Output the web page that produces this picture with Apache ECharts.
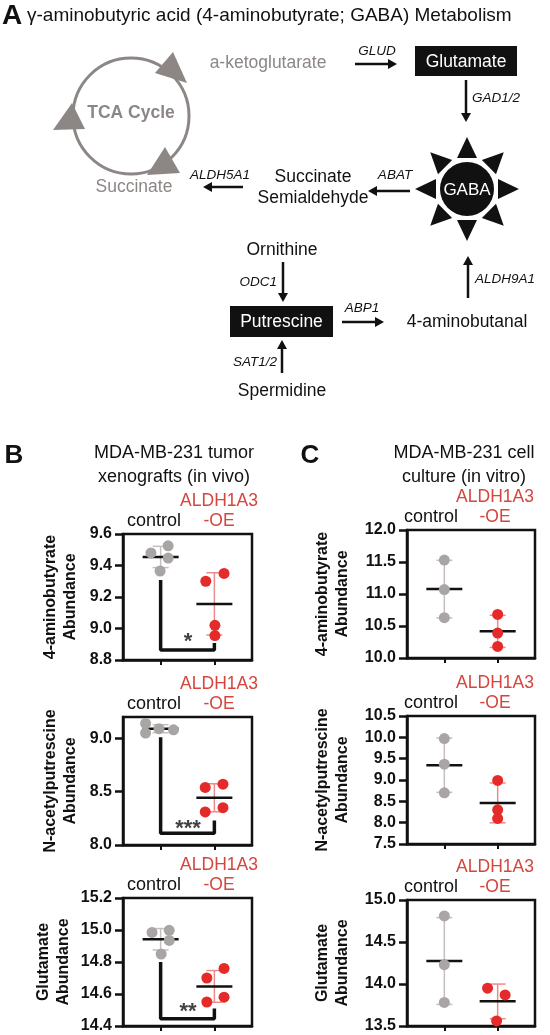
<!DOCTYPE html>
<html>
<head>
<meta charset="utf-8">
<script src="https://cdn.jsdelivr.net/npm/echarts@6/dist/echarts.min.js"></script>
<style>
  html, body { margin: 0; padding: 0; background: #fff; }
  #chart { width: 550px; height: 1035px; }
</style>
</head>
<body>
<div id="chart"></div>
<script>
  // ---- data ----
  var groups = ['control', 'ALDH1A3-OE'];

  // B: tumor xenografts (in vivo), n = 4
  var vivoGabaCtrl = [9.48, 9.525, 9.447, 9.365];
  var vivoGabaCtrlX = [0.82, 1.14, 1.14, 0.99];
  var vivoGabaOE = [9.30, 9.35, 9.02, 8.955];
  var vivoGabaOEX = [1.84, 2.18, 2.01, 2.01];

  var vivoAcpCtrl = [9.14, 9.05, 9.09, 9.08];
  var vivoAcpCtrlX = [0.72, 0.72, 0.97, 1.24];
  var vivoAcpOE = [8.54, 8.57, 8.31, 8.35];
  var vivoAcpOEX = [1.83, 2.16, 1.83, 2.16];

  var vivoGluCtrl = [14.985, 14.998, 14.935, 14.85];
  var vivoGluCtrlX = [0.84, 1.16, 1.16, 1.01];
  var vivoGluOE = [14.70, 14.76, 14.55, 14.58];
  var vivoGluOEX = [1.86, 2.18, 1.86, 2.18];

  // C: cell culture (in vitro), n = 3
  var vitroGabaCtrl = [11.53, 11.07, 10.63];
  var vitroGabaCtrlX = [1, 1, 1];
  var vitroGabaOE = [10.68, 10.39, 10.18];
  var vitroGabaOEX = [2, 2, 2];

  var vitroAcpCtrl = [9.97, 9.37, 8.70];
  var vitroAcpCtrlX = [1, 1, 1];
  var vitroAcpOE = [8.99, 8.30, 8.10];
  var vitroAcpOEX = [2, 2, 2];

  var vitroGluCtrl = [14.81, 14.23, 13.78];
  var vitroGluCtrlX = [1, 1, 1];
  var vitroGluOE = [13.95, 13.87, 13.56];
  var vitroGluOEX = [1.81, 2.14, 1.98];

  // significance brackets: [top at control, bottom, end at OE]
  var vivoGabaBracket = [9.308, 8.863, 8.908];
  var vivoAcpBracket = [9.01, 8.11, 8.23];
  var vivoGluBracket = [14.80, 14.445, 14.51];
  var starLabels = ['*', '***', '**'];
  var starY = [8.946, 8.197, 14.517];

  // y axes
  var yMin = [8.8, 8.0, 14.4, 10.0, 7.5, 13.5];
  var yMax = [9.6, 9.2, 15.2, 12.0, 10.5, 15.0];
  var yTicks = [
    [8.8, 9.0, 9.2, 9.4, 9.6],
    [8.0, 8.5, 9.0],
    [14.4, 14.6, 14.8, 15.0, 15.2],
    [10.0, 10.5, 11.0, 11.5, 12.0],
    [7.5, 8.0, 8.5, 9.0, 9.5, 10.0, 10.5],
    [13.5, 14.0, 14.5, 15.0]
  ];
  var yNames = [
    '4-aminobutyrate\nAbundance', 'N-acetylputrescine\nAbundance', 'Glutamate\nAbundance',
    '4-aminobutyrate\nAbundance', 'N-acetylputrescine\nAbundance', 'Glutamate\nAbundance'
  ];

  // ---- style ----
  var FONT = '"Liberation Sans", Arial, Helvetica, sans-serif';
  var INK = '#111';
  var GRAY = '#a9a5a5', GRAY_SD = '#c4c0c0';
  var RED = '#e52a2a', RED_SD = '#ec8b8b', RED_TXT = '#d6453e';
  var DIAG_GRAY = '#8c8785';

  var grids = [
    { left: 123, top: 534, width: 129, height: 126 },
    { left: 123, top: 717, width: 129, height: 128 },
    { left: 123, top: 898, width: 129, height: 128 },
    { left: 407, top: 530, width: 128, height: 128 },
    { left: 407, top: 716, width: 128, height: 128 },
    { left: 407, top: 900, width: 128, height: 126 }
  ];

  var panels = [
    [vivoGabaCtrl, vivoGabaCtrlX, vivoGabaOE, vivoGabaOEX, vivoGabaBracket],
    [vivoAcpCtrl, vivoAcpCtrlX, vivoAcpOE, vivoAcpOEX, vivoAcpBracket],
    [vivoGluCtrl, vivoGluCtrlX, vivoGluOE, vivoGluOEX, vivoGluBracket],
    [vitroGabaCtrl, vitroGabaCtrlX, vitroGabaOE, vitroGabaOEX, null],
    [vitroAcpCtrl, vitroAcpCtrlX, vitroAcpOE, vitroAcpOEX, null],
    [vitroGluCtrl, vitroGluCtrlX, vitroGluOE, vitroGluOEX, null]
  ];

  function meanSd(a) {
    var m = a.reduce(function (s, v) { return s + v; }, 0) / a.length;
    var ss = a.reduce(function (s, v) { return s + (v - m) * (v - m); }, 0);
    return [m, Math.sqrt(ss / (a.length - 1))];
  }

  function pairs(xs, ys) {
    return ys.map(function (y, i) { return [xs[i], y]; });
  }

  // mean line + SD whiskers
  function renderMeanSd(params, api) {
    var x = api.value(0), m = api.value(1), sd = api.value(2), kind = api.value(3);
    var top = api.coord([x, m + sd]), bot = api.coord([x, m - sd]), mid = api.coord([x, m]);
    var c = kind === 0 ? GRAY_SD : RED_SD;
    var cap = 8, half = 18;
    return {
      type: 'group',
      children: [
        { type: 'line', shape: { x1: top[0], y1: top[1], x2: bot[0], y2: bot[1] }, style: { stroke: c, lineWidth: 1.5 } },
        { type: 'line', shape: { x1: top[0] - cap, y1: top[1], x2: top[0] + cap, y2: top[1] }, style: { stroke: c, lineWidth: 1.5 } },
        { type: 'line', shape: { x1: bot[0] - cap, y1: bot[1], x2: bot[0] + cap, y2: bot[1] }, style: { stroke: c, lineWidth: 1.5 } },
        { type: 'line', shape: { x1: mid[0] - half, y1: mid[1], x2: mid[0] + half, y2: mid[1] }, style: { stroke: INK, lineWidth: 2.5 } }
      ]
    };
  }

  var xAxes = [], yAxes = [], series = [];
  panels.forEach(function (p, i) {
    xAxes.push({
      gridIndex: i, type: 'value', min: 0.3, max: 2.7,
      axisLine: { lineStyle: { color: INK, width: 2.5 } },
      axisTick: { show: true, customValues: [1, 2], length: 5, lineStyle: { color: INK, width: 2 } },
      axisLabel: { show: false },
      splitLine: { show: false }
    });
    yAxes.push({
      gridIndex: i, type: 'value', min: yMin[i], max: yMax[i],
      axisLine: { show: true, lineStyle: { color: INK, width: 2.5 } },
      axisTick: { show: true, customValues: yTicks[i], length: 8, lineStyle: { color: INK, width: 2.5 } },
      axisLabel: {
        customValues: yTicks[i], margin: 11, color: INK, fontFamily: FONT, fontSize: 16, fontWeight: 'bold',
        formatter: function (v) { return (+v).toFixed(1); }
      },
      splitLine: { show: false }
    });
    var c = meanSd(p[0]), o = meanSd(p[2]);
    series.push({
      type: 'custom', xAxisIndex: i, yAxisIndex: i, z: 2, silent: true,
      renderItem: renderMeanSd,
      data: [[1, c[0], c[1], 0], [2, o[0], o[1], 1]]
    });
    series.push({
      type: 'scatter', name: groups[0], xAxisIndex: i, yAxisIndex: i, z: 3,
      symbolSize: 11, itemStyle: { color: GRAY, opacity: 1 },
      data: pairs(p[1], p[0])
    });
    series.push({
      type: 'scatter', name: groups[1], xAxisIndex: i, yAxisIndex: i, z: 3,
      symbolSize: 11, itemStyle: { color: RED, opacity: 1 },
      data: pairs(p[3], p[2])
    });
    if (p[4]) {
      var b = p[4];
      series.push({
        type: 'line', xAxisIndex: i, yAxisIndex: i, z: 1, symbol: 'none', silent: true,
        lineStyle: { color: INK, width: 3.5 },
        data: [[1, b[0]], [1, b[1]], [2, b[1]], [2, b[2]]]
      });
      series.push({
        type: 'scatter', xAxisIndex: i, yAxisIndex: i, z: 4, symbolSize: 0, silent: true,
        label: {
          show: true, position: 'inside', offset: [0, 5], color: INK,
          fontFamily: FONT, fontSize: 22, fontWeight: 'bold',
          formatter: starLabels[i]
        },
        data: [[1.51, starY[i]]]
      });
    }
  });

  // ---- pathway diagram + panel texts ----
  var g = [];
  function txt(x, y, s, o) {
    o = o || {};
    var e = {
      type: 'text', x: x, y: y, z: 10, rotation: o.rot || 0,
      style: {
        text: s, fill: o.fill || INK,
        font: (o.italic ? 'italic ' : '') + (o.bold ? 'bold ' : '') + (o.size || 17.5) + 'px ' + FONT,
        textAlign: o.align || 'center', textVerticalAlign: 'middle',
        lineHeight: o.lh || undefined
      }
    };
    g.push(e);
  }
  function arrow(x1, y1, x2, y2) {
    var dx = x2 - x1, dy = y2 - y1, len = Math.sqrt(dx * dx + dy * dy);
    var ux = dx / len, uy = dy / len, hl = 9, hw = 5;
    var bx = x2 - ux * hl, by = y2 - uy * hl;
    g.push({ type: 'line', z: 10, shape: { x1: x1, y1: y1, x2: bx + ux, y2: by + uy }, style: { stroke: INK, lineWidth: 2.5 } });
    g.push({ type: 'polygon', z: 10, shape: { points: [[x2, y2], [bx - uy * hw, by + ux * hw], [bx + uy * hw, by - ux * hw]] }, style: { fill: INK } });
  }
  function box(x, y, w, h, s) {
    g.push({ type: 'rect', z: 9, shape: { x: x, y: y, width: w, height: h }, style: { fill: INK } });
    txt(x + w / 2, y + h / 2 + 1, s, { fill: '#fff' });
  }

  txt(12, 16, 'A', { bold: true, size: 28 });
  txt(27, 16, 'γ-aminobutyric acid (4-aminobutyrate; GABA) Metabolism', { align: 'left', size: 19 });

  // TCA cycle
  g.push({ type: 'circle', z: 9, shape: { cx: 131, cy: 116, r: 58 }, style: { fill: 'none', stroke: DIAG_GRAY, lineWidth: 3 } });
  g.push({ type: 'polygon', z: 10, shape: { points: [[173, 52], [155, 73], [187, 83]] }, style: { fill: DIAG_GRAY } });
  g.push({ type: 'polygon', z: 10, shape: { points: [[72, 103], [53, 130], [85, 129]] }, style: { fill: DIAG_GRAY } });
  g.push({ type: 'polygon', z: 10, shape: { points: [[165, 147], [147, 175], [180, 173]] }, style: { fill: DIAG_GRAY } });
  txt(131, 113, 'TCA Cycle', { bold: true, fill: DIAG_GRAY });
  txt(134, 187, 'Succinate', { fill: DIAG_GRAY });
  txt(268, 63, 'a-ketoglutarate', { fill: DIAG_GRAY });

  // GLUD -> Glutamate
  txt(377, 51, 'GLUD', { italic: true, size: 13.5 });
  arrow(355, 64, 397, 64);
  box(415, 46, 102, 30, 'Glutamate');
  arrow(466, 80, 466, 122);
  txt(472, 98, 'GAD1/2', { italic: true, size: 13.5, align: 'left' });

  // GABA sun
  for (var k = 0; k < 8; k++) {
    var a = k * Math.PI / 4, ca = Math.cos(a), sa = Math.sin(a);
    var cx = 467, cy = 189;
    g.push({
      type: 'polygon', z: 9,
      shape: { points: [
        [cx + ca * 52, cy + sa * 52],
        [cx + ca * 31 - sa * 10, cy + sa * 31 + ca * 10],
        [cx + ca * 31 + sa * 10, cy + sa * 31 - ca * 10]
      ] },
      style: { fill: INK }
    });
  }
  g.push({ type: 'circle', z: 9, shape: { cx: 467, cy: 189, r: 27 }, style: { fill: INK } });
  txt(467, 190, 'GABA', { fill: '#fff', size: 17 });

  // GABA -> succinate semialdehyde -> succinate
  txt(395, 175, 'ABAT', { italic: true, size: 13.5 });
  arrow(410, 191, 368, 191);
  txt(313, 188, 'Succinate\nSemialdehyde', { lh: 21 });
  txt(220, 175, 'ALDH5A1', { italic: true, size: 13.5 });
  arrow(243, 187, 203, 187);

  // putrescine branch
  txt(282, 250, 'Ornithine');
  arrow(283, 262, 283, 302);
  txt(277, 282, 'ODC1', { italic: true, size: 13.5, align: 'right' });
  box(230, 306, 103, 31, 'Putrescine');
  txt(362, 308, 'ABP1', { italic: true, size: 13.5 });
  arrow(342, 322, 384, 322);
  txt(467, 322, '4-aminobutanal');
  arrow(468, 298, 468, 256);
  txt(475, 279, 'ALDH9A1', { italic: true, size: 13.5, align: 'left' });
  arrow(282, 373, 282, 340);
  txt(277, 362, 'SAT1/2', { italic: true, size: 13.5, align: 'right' });
  txt(282, 391, 'Spermidine');

  // panel headings
  txt(14, 456, 'B', { bold: true, size: 26 });
  txt(174, 465, 'MDA-MB-231 tumor\nxenografts (in vivo)', { size: 18, lh: 24 });
  txt(310, 456, 'C', { bold: true, size: 26 });
  txt(464, 465, 'MDA-MB-231 cell\nculture (in vitro)', { size: 18, lh: 24 });

  // group labels and y-axis titles for every plot
  grids.forEach(function (gr, i) {
    var isB = i < 3;
    var ctrlX = gr.left + (isB ? 31 : 24);
    var oeX = gr.left + (isB ? 96 : 88);
    txt(ctrlX, gr.top - 13, 'control', { size: 18 });
    txt(oeX, gr.top - 23, 'ALDH1A3\n-OE', { size: 17.5, fill: RED_TXT, lh: 20 });
    var nameX = gr.left - (isB ? (i === 2 ? 69 : 62) : 74);
    txt(nameX, gr.top + gr.height / 2, yNames[i], { size: 16, bold: true, rot: Math.PI / 2, lh: 20 });
  });

  var chart = echarts.init(document.getElementById('chart'), null, { renderer: 'canvas' });
  chart.setOption({
    animation: false,
    backgroundColor: '#fff',
    textStyle: { fontFamily: FONT },
    grid: grids.map(function (gr) {
      return { left: gr.left, top: gr.top, width: gr.width, height: gr.height, show: true, borderColor: INK, borderWidth: 2.5, backgroundColor: 'transparent' };
    }),
    xAxis: xAxes,
    yAxis: yAxes,
    series: series,
    graphic: { elements: g }
  });
</script>
</body>
</html>
